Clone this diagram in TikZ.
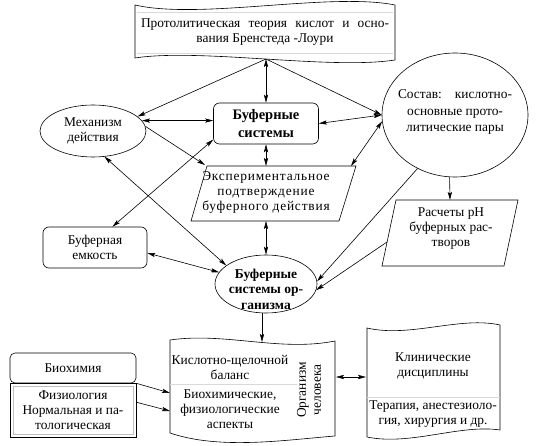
\documentclass[tikz,border=0pt]{standalone}
\usepackage{fontspec}
\setmainfont{Liberation Serif}
\usetikzlibrary{arrows.meta,shapes.geometric}
\begin{document}
\begin{tikzpicture}[x=1pt,y=-1pt,
  >={Stealth[length=8pt,width=4.2pt,inset=1.6pt]},
  txt/.style={align=center,inner sep=0pt,font=\fontsize{13.4}{15}\selectfont},
  bold/.style={align=center,inner sep=0pt,font=\fontsize{13.5}{15.5}\selectfont\bfseries},
  shp/.style={draw,line width=0.6pt},
  conn/.style={->,line width=0.6pt},
  biconn/.style={<->,line width=0.6pt},
  sep/.style={draw=black!15,line width=0.5pt}]
\useasboundingbox (0,0) rectangle (544,446);

% top tape
\draw[shp] (135,5) .. controls (200,20) and (330,-8) .. (395,5) -- (395,60)
  .. controls (330,70) and (200,48) .. (135,58) -- cycle;
\draw[sep] (137,12) -- (393,12);
\draw[sep] (137,53) -- (393,53);
\node[txt] (theory) at (265,32) {\makebox[248pt][s]{Протолитическая теория кислот и осно-}\\вания Бренстеда -Лоури};
\coordinate (thS) at (266,59);

% mechanism
\node[shp,ellipse,txt,minimum width=106pt,minimum height=52pt] (mech) at (93,131) {Механизм\\действия};

% buffer systems
\node[shp,rounded corners=6pt,bold,font=\fontsize{14.5}{18}\selectfont\bfseries,
  minimum width=105pt,minimum height=41pt] (bs) at (266,123.5) {Буферные\\системы};

% composition
\node[shp,ellipse,minimum width=146pt,minimum height=124pt,inner sep=0pt] (sost) at (455,115) {};
\node[txt,font=\fontsize{13.4}{16.5}\selectfont] (sostT) at (455,112) {\makebox[114pt][s]{Состав: кислотно-}\\основные прото-\\литические пары};

% experimental
\draw[shp] (207,166) -- (356,166) -- (339,221) -- (191,221) -- cycle;
\node[txt,font=\fontsize{13.4}{15}\selectfont\addfontfeature{LetterSpace=6}] (exp) at (266,193) {Экспериментальное\\подтверждение\\буферного действия};
\coordinate (expN) at (266,166);
\coordinate (expS) at (266,221);
\coordinate (expNW) at (205,165);
\coordinate (expNE) at (351,166);

% capacity
\node[shp,rounded corners=6pt,txt,minimum width=104pt,minimum height=41pt] (emk) at (95,247.5) {Буферная\\емкость};

% organism buffer systems
\node[shp,ellipse,minimum width=102pt,minimum height=58pt,inner sep=0pt] (bso) at (266,284) {};
\node[bold] (bsoT) at (266,289) {Буферные\\системы ор-\\ганизма};

% calculations
\draw[shp] (396,200) -- (518,200) -- (504,266) -- (382,266) -- cycle;
\node[txt] (rasch) at (451,229) {Расчеты pH\\буферных рас-\\творов};
\coordinate (raschN) at (450,200);
\coordinate (raschW) at (387,242);

% acid-base balance tape
\draw[shp] (170,340) .. controls (225,332) and (280,352) .. (335,341) -- (335,436)
  .. controls (285,440) and (220,450) .. (170,433) -- cycle;
\draw[sep] (170,384) -- (297,384);
\node[txt] (ksh1) at (230,367) {Кислотно-щелочной\\баланс};
\node[txt] (ksh2) at (230,409) {Биохимические,\\физиологические\\аспекты};
\node[txt,rotate=90] (org) at (309,390) {Организм\\человека};
\coordinate (kshN) at (262,342);
\coordinate (kshW1) at (170,393);
\coordinate (kshW2) at (170,411);
\coordinate (kshE) at (336,377);

% clinical tape
\draw[shp] (367,328) .. controls (410,338) and (460,316) .. (500,325) -- (500,430)
  .. controls (460,424) and (410,446) .. (367,437) -- cycle;
\draw[sep] (367,397) -- (500,397);
\node[txt] (klin1) at (433,366) {Клинические\\дисциплины};
\node[txt] (klin2) at (433,414) {Терапия, анестезиоло-\\гия, хирургия и др.};
\coordinate (klinW) at (366,377);

% left boxes
\node[shp,rounded corners=5pt,txt,minimum width=126pt,minimum height=30pt] (bioch) at (73,368) {Биохимия};
\node[shp,txt,minimum width=126pt,minimum height=54pt] (phys) at (73,410) {Физиология\\Нормальная и па-\\тологическая};
\draw[black!25,line width=0.5pt] (13,386) rectangle (133,434);

% connectors
\draw[biconn] (thS) -- (bs.north);
\draw[conn] (thS) -- (mech.18);
\draw[conn] (thS) -- (sost.west);
\draw[biconn] (mech.12) -- (mech.12 -| bs.west);
\draw[biconn] (bs.east) -- (sost.west);
\draw[conn] (mech.5) -- (expNW);
\draw[biconn] (bs.south) -- (expN);
\draw[biconn] (expNE) -- (sost.185);
\draw[biconn] (bs.197) -- (emk.50);
\draw[biconn] (mech.-66) -- (bso.155);
\draw[biconn] (emk.-6) -- (bso.166);
\draw[biconn] (expS) -- (bso.north);
\draw[conn] (sost.235) -- (bso.3);
\draw[conn] (raschW) -- (bso.-7);
\draw[conn] (sost.265) -- (raschN);
\draw[conn] (bso.south -| kshN) -- (kshN);
\draw[conn] (bioch.south east) -- (kshW1);
\draw[conn] (phys.7) -- (kshW2);
\draw[biconn] (kshE) -- (klinW);
\end{tikzpicture}
\end{document}
